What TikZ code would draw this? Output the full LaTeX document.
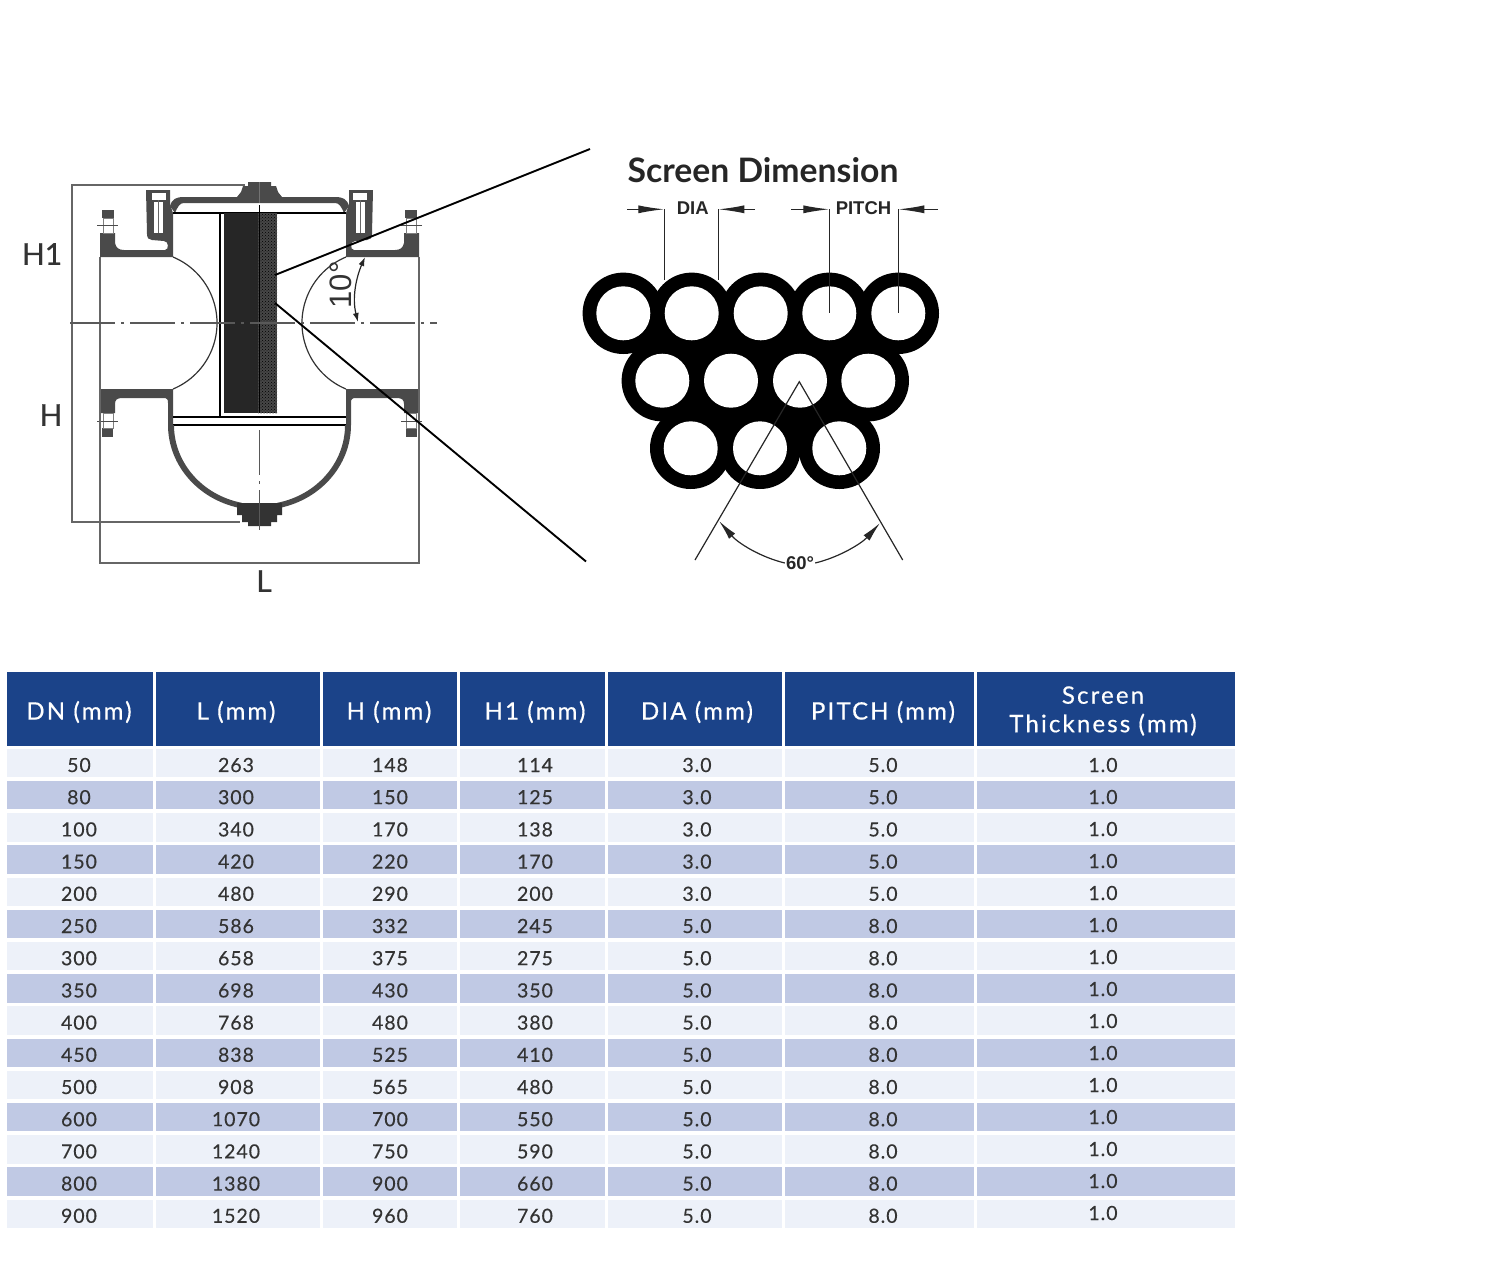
\documentclass[tikz,border=0pt]{standalone}
\usepackage{fontspec}
\setmainfont{Lato}
\newfontfamily\tabfont[LetterSpace=5,FakeBold=0.3]{Lato}
\newfontfamily\headfont[LetterSpace=9,FakeBold=0.5]{Lato}
\newfontfamily\labelfont[FakeBold=0.4]{Lato}
\newfontfamily\dimfont{Liberation Sans}
\usetikzlibrary{arrows.meta,patterns}
\definecolor{headblue}{HTML}{1B4389}
\definecolor{rowlight}{HTML}{EDF1F9}
\definecolor{rowdark}{HTML}{C0C9E4}
\definecolor{metal}{HTML}{4A4A4A}
\definecolor{dimgrey}{HTML}{666666}
\tikzset{
  cellbox/.style={inner sep=0pt, minimum height=28.5pt},
  headbox/.style={inner sep=0pt, minimum height=74pt, fill=headblue},
  celltext/.style={inner sep=0pt, text=black!80, font=\tabfont\fontsize{19.5}{20}\selectfont},
  headtext/.style={inner sep=0pt, text=white, align=center, font=\headfont\fontsize{24}{28.5}\selectfont},
  dimline/.style={draw=dimgrey, line width=1.5pt},
  axisline/.style={draw=black!65, line width=1.3pt, dash pattern=on 45pt off 6pt on 3pt off 6pt},
  leader/.style={draw=black, line width=1.9pt},
  thinline/.style={draw=black!85, line width=1.2pt},
  dimlabel/.style={inner sep=0pt, text=black!80, font=\labelfont\fontsize{30}{32}\selectfont},
  smalllabel/.style={inner sep=1pt, text=black!85, font=\dimfont\bfseries\fontsize{18.5}{20}\selectfont},
  wholefill/.style={fill=black, inner sep=0pt, circle, minimum size=81.4pt},
  hole/.style={fill=white, inner sep=0pt, circle, minimum size=54pt},
  halfbody/.pic={
    % upper flange and neck
    \fill[metal] (100,257) -- (100,233) -- (115,233) -- (115,243) .. controls (116,248) and (119,250) .. (124,250)
      -- (165,250) .. controls (169,250) and (169,241) .. (164,241) -- (152,240) .. controls (149,240) and (147,238) .. (147,234)
      -- (146,190) -- (170,190) -- (170,204) -- (173,213) -- (173,257) -- cycle;
    \fill[white] (152,193) rectangle (166,200);
    \fill[white] (154,202) rectangle (163,233);
    \draw[black!60, line width=1pt] (158.5,200) -- (158.5,233);
    \fill[metal] (102,210) rectangle (114,218);
    \draw[black!50, line width=1pt] (103,218) rectangle (113,233);
    \draw[black!70, line width=1pt] (97,225) -- (118,225);
    % cover
    \fill[metal] (170,206) .. controls (172,199) and (176,197) .. (184,197) -- (237,197) -- (241,192) -- (243,186) -- (248,186) -- (248,182)
      -- (259.5,182) -- (259.5,203) -- (184,203) .. controls (180,203) and (178,206) .. (175,213) -- cycle;
    \draw[black, line width=1.5pt] (173,213) -- (259.5,213);
    % lower flange
    \fill[metal] (100,389) -- (173,389) -- (173,425) -- (168,425) -- (168,403) .. controls (168,399) and (167,398) .. (163,398)
      -- (122,398) .. controls (117,398) and (115,400) .. (115,404) -- (115,413) -- (100,413) -- cycle;
    \fill[metal] (102,428) rectangle (113,437);
    \draw[black!50, line width=1pt] (103,413) rectangle (113,428);
    \draw[black!70, line width=1pt] (97,421) -- (118,421);
    \draw[black, line width=1.5pt] (173,417) -- (259.5,417);
    \draw[black, line width=1.5pt] (173,425) -- (259.5,425);
    % bowl
    \fill[metal] (168,425) arc[start angle=180, end angle=100, x radius=91.5, y radius=85]
      -- (241.7,502.8) arc[start angle=102, end angle=180, x radius=85.5, y radius=79.5] -- cycle;
    \fill[black!80] (237,503) -- (237,515) -- (242,515) -- (242,522) -- (248,522) -- (248,526) -- (259.5,526) -- (259.5,503) -- cycle;
    % pipe wall and branch
    \draw[black!80, line width=1.2pt] (173,257) arc[start angle=-67.4, end angle=67.4, radius=71.5];
    \draw[dimline] (100,257) -- (100,389);
  }
}
% one table row: number, fill colour, seven values
\newcommand\tabrow[9]{
  \pgfmathsetmacro\celly{763+32.2*#1}
  \pgfmathsetmacro\texty{765+32.2*#1}
  \pgfmathsetmacro\lasty{765+32*#1}
  \node[cellbox, fill=#2, minimum width=146pt] (cell#1a) at (80,\celly){};
  \node[cellbox, fill=#2, minimum width=164pt] (cell#1b) at (238,\celly){};
  \node[cellbox, fill=#2, minimum width=134pt] (cell#1c) at (390,\celly){};
  \node[cellbox, fill=#2, minimum width=145pt] (cell#1d) at (532.5,\celly){};
  \node[cellbox, fill=#2, minimum width=174pt] (cell#1e) at (695,\celly){};
  \node[cellbox, fill=#2, minimum width=189pt] (cell#1f) at (879.5,\celly){};
  \node[cellbox, fill=#2, minimum width=258pt] (cell#1g) at (1106,\celly){};
  \node[celltext] (val#1a) at (79,\texty){#3};
  \node[celltext] (val#1b) at (236,\texty){#4};
  \node[celltext] (val#1c) at (390,\texty){#5};
  \node[celltext] (val#1d) at (535,\texty){#6};
  \node[celltext] (val#1e) at (697,\texty){#7};
  \node[celltext] (val#1f) at (883,\texty){#8};
  \node[celltext] (val#1g) at (1103,\lasty){#9};
}
\begin{document}
\begin{tikzpicture}[x=1pt, y=-1pt]
\useasboundingbox (0,0) rectangle (1508,1278);
% strainer body
\pic at (0,0) {halfbody};
\pic[xscale=-1] at (519,0) {halfbody};
\coordinate (h1top) at (245,185);
\coordinate (h1corner) at (72,185);
\coordinate (hcorner) at (72,522);
\coordinate (hbottom) at (240,522);
\coordinate (lleft) at (100,389);
\coordinate (lright) at (419,389);
\coordinate (lcornerl) at (100,563);
\coordinate (lcornerr) at (419,563);
\draw[dimline] (h1top) -- (h1corner) -- (hcorner) -- (hbottom);
\draw[dimline] (lleft) -- (lcornerl) -- (lcornerr) -- (lright);
% screen
\draw[black, line width=1.2pt] (220,213) -- (220,417);
\fill[black!85] (224,213) rectangle (258,413);
\fill[black!72] (258,213) rectangle (277,413);
\fill[pattern=crosshatch dots, pattern color=black] (258,213) rectangle (277,413);
\draw[black, line width=1.5pt] (259.5,205) -- (259.5,413);
% axes
\coordinate (axl) at (70,323);
\coordinate (axr) at (437,323);
\coordinate (axb0) at (259.5,430);
\coordinate (axb1) at (259.5,530);
\draw[axisline] (axl) -- (axr);
\draw[axisline] (axb0) -- (axb1);
% 10 degree mark
\node[inner sep=0pt, rotate=90, text=black!80, font=\dimfont\fontsize{31}{32}\selectfont] (angten) at (341,285){10°};
\coordinate (ten0) at (365,257);
\coordinate (ten1) at (358,322);
\draw[thinline, {Latex[length=9pt,width=6pt]}-{Latex[length=9pt,width=6pt]}] (ten0) .. controls (356,278) and (352,298) .. (ten1);
% labels
\node[dimlabel] (labh1) at (42,254){H1};
\node[dimlabel] (labh) at (51,415){H};
\node[dimlabel] (labl) at (264,581){L};
% screen holes
\node[wholefill] (o1) at (623.3,313.3){};
\node[wholefill] (o2) at (691.7,313.3){};
\node[wholefill] (o3) at (760.7,313.3){};
\node[wholefill] (o4) at (829.3,313.3){};
\node[wholefill] (o5) at (898.3,313.3){};
\node[wholefill] (o6) at (662.3,380.7){};
\node[wholefill] (o7) at (731,380.7){};
\node[wholefill] (o8) at (800,380.7){};
\node[wholefill] (o9) at (868.3,380.7){};
\node[wholefill] (o10) at (690.7,448.3){};
\node[wholefill] (o11) at (760,448.3){};
\node[wholefill] (o12) at (839.3,448.3){};
\fill[black] (o1.center) -- (o5.center) -- (o9.center) -- (o12.center) -- (o10.center) -- (o6.center) -- cycle;
\node[hole] (h1) at (623.3,313.3){};
\node[hole] (h2) at (691.7,313.3){};
\node[hole] (h3) at (760.7,313.3){};
\node[hole] (h4) at (829.3,313.3){};
\node[hole] (h5) at (898.3,313.3){};
\node[hole] (h6) at (662.3,380.7){};
\node[hole] (h7) at (731,380.7){};
\node[hole] (h8) at (800,380.7){};
\node[hole] (h9) at (868.3,380.7){};
\node[hole] (h10) at (690.7,448.3){};
\node[hole] (h11) at (760,448.3){};
\node[hole] (h12) at (839.3,448.3){};
% screen dimensions
\node[inner sep=0pt, text=black!85, font=\bfseries\fontsize{33.7}{34}\selectfont] (title) at (763,170){Screen Dimension};
\node[smalllabel] (dia) at (692.7,207.7){DIA};
\node[smalllabel] (pitch) at (863.5,208){PITCH};
\coordinate (dia0) at (627,209.3);
\coordinate (dia1) at (664.3,209.3);
\coordinate (dia2) at (718.3,209.3);
\coordinate (dia3) at (755,209.3);
\coordinate (dia4) at (664.3,280);
\coordinate (dia5) at (718.3,280);
\coordinate (pit0) at (791,209.3);
\coordinate (pit1) at (829.3,209.3);
\coordinate (pit2) at (898.3,209.3);
\coordinate (pit3) at (938,209.3);
\coordinate (pit4) at (829.3,313);
\coordinate (pit5) at (898.3,313);
\draw[thinline] (dia1) -- (dia4);
\draw[thinline] (dia2) -- (dia5);
\draw[thinline] (pit1) -- (pit4);
\draw[thinline] (pit2) -- (pit5);
\draw[thinline, -{Latex[length=26pt,width=8pt]}] (dia0) -- (dia1);
\draw[thinline, -{Latex[length=26pt,width=8pt]}] (dia3) -- (dia2);
\draw[thinline, -{Latex[length=26pt,width=8pt]}] (pit0) -- (pit1);
\draw[thinline, -{Latex[length=26pt,width=8pt]}] (pit3) -- (pit2);
% 60 degree mark
\coordinate (apex) at (799.3,381.7);
\coordinate (angl) at (695,560);
\coordinate (angr) at (902.7,560);
\coordinate (arcl) at (719,521);
\coordinate (arcr) at (880,523);
\node[smalllabel] (angsix) at (800,563){60°};
\draw[thinline] (angl) -- (apex) -- (angr);
\draw[thinline, -{Latex[length=20pt,width=8pt]}] (angsix.west) .. controls (760,557) and (738,543) .. (arcl);
\draw[thinline, -{Latex[length=20pt,width=8pt]}] (angsix.east) .. controls (840,557) and (862,543) .. (arcr);
% zoom lines
\coordinate (zoom0) at (275,275);
\coordinate (zoom1) at (590,149);
\coordinate (zoom2) at (275,303);
\coordinate (zoom3) at (586,561.5);
\draw[leader] (zoom0) -- (zoom1);
\draw[leader] (zoom2) -- (zoom3);
% table head
\node[headbox, minimum width=146pt] (hd1) at (80,709){};
\node[headbox, minimum width=164pt] (hd2) at (238,709){};
\node[headbox, minimum width=134pt] (hd3) at (390,709){};
\node[headbox, minimum width=145pt] (hd4) at (532.5,709){};
\node[headbox, minimum width=174pt] (hd5) at (695,709){};
\node[headbox, minimum width=189pt] (hd6) at (879.5,709){};
\node[headbox, minimum width=258pt] (hd7) at (1106,709){};
\node[headtext] (ht1) at (79,712){DN (mm)};
\node[headtext] (ht2) at (236,712){L (mm)};
\node[headtext] (ht3) at (389,712){H (mm)};
\node[headtext] (ht4) at (535,712){H1 (mm)};
\node[headtext] (ht5) at (697,712){DIA (mm)};
\node[headtext] (ht6) at (883,712){PITCH (mm)};
\node[headtext] (ht7) at (1103,711){Screen\\Thickness (mm)};
% table rows
\tabrow{0}{rowlight}{50}{263}{148}{114}{3.0}{5.0}{1.0}
\tabrow{1}{rowdark}{80}{300}{150}{125}{3.0}{5.0}{1.0}
\tabrow{2}{rowlight}{100}{340}{170}{138}{3.0}{5.0}{1.0}
\tabrow{3}{rowdark}{150}{420}{220}{170}{3.0}{5.0}{1.0}
\tabrow{4}{rowlight}{200}{480}{290}{200}{3.0}{5.0}{1.0}
\tabrow{5}{rowdark}{250}{586}{332}{245}{5.0}{8.0}{1.0}
\tabrow{6}{rowlight}{300}{658}{375}{275}{5.0}{8.0}{1.0}
\tabrow{7}{rowdark}{350}{698}{430}{350}{5.0}{8.0}{1.0}
\tabrow{8}{rowlight}{400}{768}{480}{380}{5.0}{8.0}{1.0}
\tabrow{9}{rowdark}{450}{838}{525}{410}{5.0}{8.0}{1.0}
\tabrow{10}{rowlight}{500}{908}{565}{480}{5.0}{8.0}{1.0}
\tabrow{11}{rowdark}{600}{1070}{700}{550}{5.0}{8.0}{1.0}
\tabrow{12}{rowlight}{700}{1240}{750}{590}{5.0}{8.0}{1.0}
\tabrow{13}{rowdark}{800}{1380}{900}{660}{5.0}{8.0}{1.0}
\tabrow{14}{rowlight}{900}{1520}{960}{760}{5.0}{8.0}{1.0}
\end{tikzpicture}
\end{document}
